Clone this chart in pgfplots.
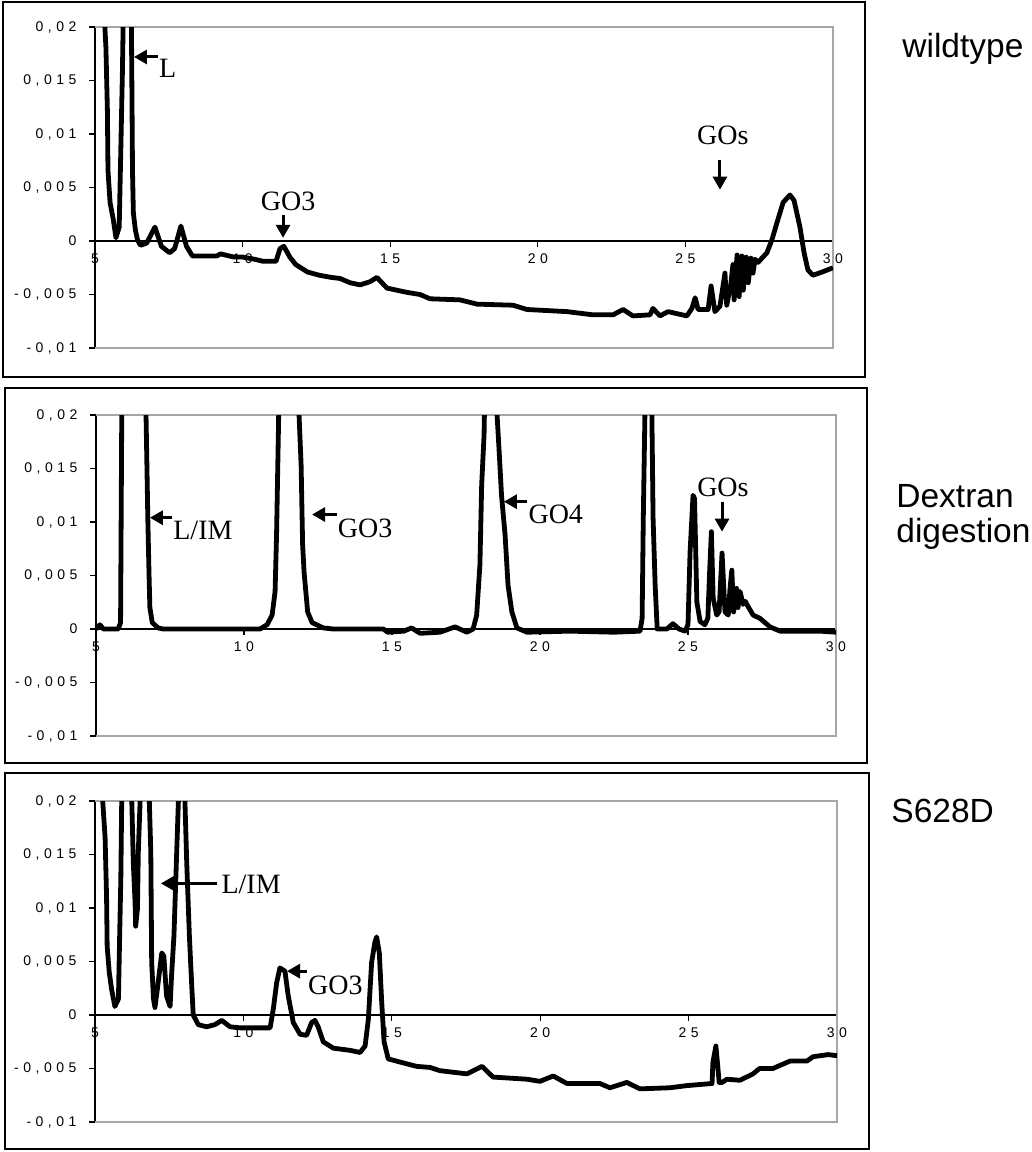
\documentclass[border=0pt]{standalone}
\usepackage{fontspec}
\usepackage{pgfplots}
\pgfplotsset{compat=1.18}
\usetikzlibrary{arrows.meta}
\setmainfont{Liberation Serif}
\newfontfamily\sansf{Liberation Sans}
\newfontfamily\tickf[LetterSpace=32]{Liberation Sans}

% one chromatogram panel, 1px of the reference = 0.5pt
\pgfplotsset{
  chrom/.style={
    scale only axis, height=160.5pt,
    anchor=south west,
    xmin=5, xmax=30, ymin=-0.01, ymax=0.02,
    axis x line=middle, axis y line=left,
    axis line style={-, black, line width=0.7pt},
    xtick={5,10,15,20,25,30},
    ytick={-0.01,-0.005,0,0.005,0.01,0.015,0.02},
    hide obscured x ticks=false, hide obscured y ticks=false,
    scaled y ticks=false,
    tick align=outside, major tick length=2.8pt,
    tick style={black, line width=0.6pt},
    tick label style={font=\tickf\fontsize{7}{8}\selectfont},
    /pgf/number format/assume math mode=true,
    yticklabel style={xshift=-3pt, /pgf/number format/.cd, fixed, precision=3, use comma},
    clip mode=individual,
  },
  trace/.style={black, no markers, line width=2.4pt, line join=round},
}
\tikzset{
  arr/.style={line width=1.5pt, -{Triangle[length=6.5pt, width=7pt]}},
  lab/.style={font=\fontsize{14}{16}\selectfont, inner sep=0pt},
}
\newcommand{\graybox}{\draw[gray!70, line width=1pt] (rel axis cs:0,1) -- (rel axis cs:1,1) -- (rel axis cs:1,0) -- (rel axis cs:0,0);}

\begin{document}
\begin{tikzpicture}
\useasboundingbox (0,0) rectangle (516pt,-576pt);

% wildtype
\begin{axis}[chrom, width=369pt, at={(47.5pt,-174pt)}]
\graybox
\addplot[trace] coordinates {
(5.24,0.025) (5.37,0.0181) (5.42,0.0122) (5.44,0.0066) (5.51,0.0036) (5.62,0.002)
(5.71,0.0003) (5.82,0.0013) (5.86,0.0066) (5.93,0.016) (5.98,0.025) (6.05,0.04)
(6.2,0.04) (6.22,0.025) (6.25,0.0144) (6.27,0.0066) (6.3,0.0026) (6.37,0.001)
(6.44,0.0001) (6.54,-0.0004) (6.75,-0.0002) (7.03,0.0013) (7.25,-0.0005) (7.53,-0.0011)
(7.7,-0.0007) (7.91,0.0014) (8.1,-0.0005) (8.3,-0.0014) (9.13,-0.0014) (9.25,-0.0012)
(9.7,-0.0015) (10.0,-0.0015) (10.4,-0.0017) (10.7,-0.0019) (11.13,-0.0019) (11.27,-0.0007)
(11.40,-0.0005) (11.6,-0.0015) (11.8,-0.0022) (12.2,-0.0029) (12.6,-0.0032) (13.0,-0.0034)
(13.3,-0.0035) (13.64,-0.0039) (13.98,-0.0041) (14.32,-0.0038) (14.55,-0.0034) (14.89,-0.0044)
(15.57,-0.0048) (16.01,-0.0050) (16.35,-0.0054) (17.36,-0.0055) (17.94,-0.0059) (19.16,-0.0060)
(19.63,-0.0064) (20.99,-0.0066) (21.87,-0.0069) (22.55,-0.0069) (22.89,-0.0064) (23.22,-0.0070)
(23.80,-0.0069) (23.90,-0.0063) (24.14,-0.0070) (24.41,-0.0066) (25.05,-0.0070) (25.22,-0.0063)
(25.33,-0.0053) (25.43,-0.0064) (25.77,-0.0064) (25.87,-0.0042) (26.00,-0.0066) (26.17,-0.0061)
(26.34,-0.0030) (26.40,-0.0060) (26.54,-0.0040) (26.61,-0.0022) (26.65,-0.0055) (26.75,-0.0013)
(26.82,-0.0052) (26.91,-0.0014) (26.96,-0.0046) (27.06,-0.0015) (27.13,-0.0039) (27.22,-0.0016)
(27.29,-0.0030) (27.36,-0.0017) (27.46,-0.0020) (27.76,-0.0011) (27.93,0.0001) (28.10,0.0017)
(28.31,0.0036) (28.54,0.0043) (28.68,0.0038) (28.88,0.0013) (29.02,-0.0011) (29.15,-0.0027)
(29.32,-0.0032) (29.63,-0.0029) (30.0,-0.0025)
};
\draw[arr] (axis cs:7.13,0.0172) -- (axis cs:6.32,0.0172);
\node[lab, anchor=west] at (axis cs:7.16,0.0161) {L};
\node[lab] at (axis cs:11.54,0.0037) {GO3};
\draw[arr] (axis cs:11.37,0.0024) -- (axis cs:11.37,0.0003);
\node[lab] at (axis cs:26.27,0.0099) {GOs};
\draw[arr] (axis cs:26.17,0.0076) -- (axis cs:26.17,0.0048);
\end{axis}

% dextran digestion
\begin{axis}[chrom, width=370pt, at={(48pt,-368pt)}]
\graybox
\addplot[trace] coordinates {
(5,0) (5.13,0.0004) (5.25,0) (5.75,0) (5.83,0.0006) (5.87,0.02) (5.9,0.03)
(6.65,0.03) (6.69,0.02) (6.72,0.0153) (6.75,0.0104) (6.79,0.0053) (6.82,0.002) (6.9,0.0006)
(7.1,0.0001) (7.27,0) (10.54,0) (10.78,0.0004) (10.95,0.0013) (11.05,0.0035) (11.10,0.0088)
(11.17,0.0197) (11.2,0.03) (11.83,0.03) (11.86,0.02) (11.93,0.0153) (11.98,0.0079) (12.03,0.0053)
(12.15,0.0016) (12.3,0.0006) (12.68,0.0001) (13.02,0) (14.71,0) (14.85,-0.0003) (15.4,-0.0002)
(15.66,0.0001) (15.95,-0.0004) (16.62,-0.0003) (17.13,0.0002) (17.53,-0.0003) (17.74,0)
(17.86,0.0013) (17.97,0.006) (18.03,0.0135) (18.11,0.0181) (18.18,0.03) (18.52,0.03)
(18.55,0.02) (18.62,0.0166) (18.70,0.0125) (18.82,0.0088) (18.92,0.0041) (19.05,0.0016)
(19.22,0.0001) (19.56,-0.0003) (21,-0.0002) (22.5,-0.0003) (23.38,-0.0002) (23.45,0.001)
(23.49,0.0104) (23.6,0.03) (23.75,0.03) (23.78,0.02) (23.82,0.0104) (23.89,0.0041) (23.96,0)
(24.29,0) (24.49,0.0005) (24.7,0) (24.90,-0.0002) (25.0,0.0004) (25.07,0.0072) (25.17,0.0125)
(25.22,0.0122) (25.30,0.0025) (25.41,0.0007) (25.57,0.0004) (25.67,0.001) (25.73,0.0053)
(25.79,0.0091) (25.85,0.0029) (25.97,0.0013) (26.05,0.0016) (26.15,0.0071) (26.25,0.0016)
(26.36,0.0013) (26.42,0.0038) (26.48,0.0055) (26.54,0.0016) (26.59,0.0029) (26.64,0.0038)
(26.69,0.002) (26.76,0.0035) (26.86,0.0023) (26.93,0.0026) (27.03,0.0021) (27.20,0.0013)
(27.43,0.001) (27.77,0.0002) (28.11,-0.0002) (28.89,-0.0002) (29.46,-0.0002) (30,-0.0003)
};
\draw[arr] (axis cs:7.57,0.0104) -- (axis cs:6.82,0.0104);
\node[lab, anchor=west] at (axis cs:7.6,0.0092) {L/IM};
\draw[arr] (axis cs:13.14,0.0107) -- (axis cs:12.30,0.0107);
\node[lab, anchor=west] at (axis cs:13.16,0.0094) {GO3};
\draw[arr] (axis cs:19.56,0.0119) -- (axis cs:18.78,0.0119);
\node[lab, anchor=west] at (axis cs:19.6,0.0107) {GO4};
\node[lab] at (axis cs:26.18,0.0132) {GOs};
\draw[arr] (axis cs:26.15,0.0119) -- (axis cs:26.15,0.0091);
\end{axis}

% S628D
\begin{axis}[chrom, width=371pt, at={(47.5pt,-561pt)}]
\graybox
\addplot[trace] coordinates {
(5.26,0.03) (5.26,0.02) (5.34,0.0166) (5.39,0.011) (5.41,0.0064) (5.48,0.004) (5.56,0.0024)
(5.67,0.0008) (5.79,0.0015) (5.82,0.0059) (5.87,0.0127) (5.90,0.02) (5.93,0.03) (6.2,0.03)
(6.24,0.02) (6.29,0.0143) (6.35,0.0105) (6.37,0.0083) (6.43,0.0099) (6.46,0.0153) (6.52,0.02)
(6.55,0.03) (6.8,0.03) (6.83,0.02) (6.88,0.0153) (6.91,0.0049) (6.97,0.0015) (7.02,0.0007)
(7.10,0.0024) (7.25,0.0058) (7.32,0.0055) (7.41,0.0018) (7.53,0.0008) (7.58,0.0037) (7.66,0.0074)
(7.75,0.015) (7.81,0.02) (7.84,0.03) (8.0,0.03) (8.03,0.02) (8.09,0.0143) (8.18,0.0074)
(8.26,0.0027) (8.31,0) (8.48,-0.0009) (8.76,-0.0011) (9.04,-0.0009) (9.27,-0.0005) (9.55,-0.0011)
(9.89,-0.0012) (10.90,-0.0012) (11.01,0.0006) (11.12,0.003) (11.23,0.0044) (11.40,0.0041)
(11.51,0.0018) (11.68,-0.0007) (11.91,-0.0018) (12.13,-0.0019) (12.30,-0.0007) (12.41,-0.0005)
(12.52,-0.0011) (12.69,-0.0025) (13.03,-0.0031) (13.59,-0.0033) (13.93,-0.0035) (14.10,-0.0029)
(14.21,-0.0004) (14.32,0.0049) (14.43,0.0068) (14.49,0.0073) (14.58,0.0058) (14.66,0.0012)
(14.74,-0.0025) (14.88,-0.0041) (15.28,-0.0044) (15.84,-0.0048) (16.29,-0.0049) (16.62,-0.0052)
(17.53,-0.0055) (18.04,-0.0048) (18.41,-0.0058) (19.56,-0.0060) (19.99,-0.0062) (20.44,-0.0057)
(20.90,-0.0064) (22.01,-0.0064) (22.35,-0.0068) (22.92,-0.0063) (23.36,-0.0069) (24.37,-0.0068)
(24.93,-0.0066) (25.79,-0.0064) (25.82,-0.0044) (25.92,-0.0029) (25.97,-0.0044) (26.03,-0.0063)
(26.13,-0.0063) (26.29,-0.0060) (26.73,-0.0061) (27.17,-0.0055) (27.39,-0.0050) (27.84,-0.0050)
(28.42,-0.0043) (28.99,-0.0043) (29.19,-0.0039) (29.70,-0.0037) (30.0,-0.0038)
};
\draw[arr] (axis cs:9.11,0.0123) -- (axis cs:7.22,0.0123);
\node[lab, anchor=west] at (axis cs:9.25,0.0122) {L/IM};
\draw[arr] (axis cs:12.14,0.0041) -- (axis cs:11.47,0.0041);
\node[lab, anchor=west] at (axis cs:12.17,0.0028) {GO3};
\end{axis}

% panel frames and sample names, in reference pixels
\begin{scope}[x=0.5pt, y=-0.5pt]
\draw[line width=1pt] (3,2) rectangle (865,377);
\draw[line width=1pt] (5,388) rectangle (867,763);
\draw[line width=1pt] (5,773) rectangle (869,1149);
\begin{scope}[every node/.style={font=\sansf\fontsize{16.75}{21}\selectfont, inner sep=0pt, anchor=base west}]
\node at (902,57) {wildtype};
\node at (896,507) {Dextran};
\node at (896,542) {digestion};
\node at (891,822) {S628D};
\end{scope}
\end{scope}
\end{tikzpicture}
\end{document}
